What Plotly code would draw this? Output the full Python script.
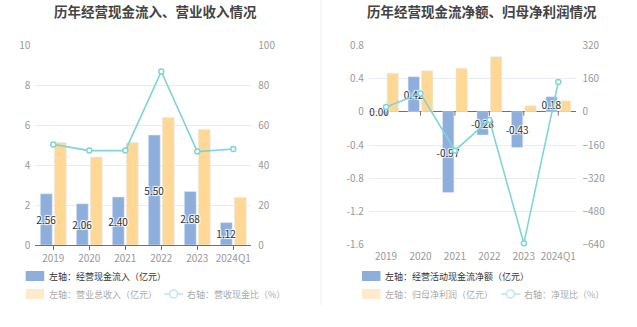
import plotly.graph_objects as go

W, H = 637, 327

# ---------------- data ----------------
years = ["2019", "2020", "2021", "2022", "2023", "2024Q1"]

# left chart
cash_inflow = [2.56, 2.06, 2.40, 5.50, 2.68, 1.12]        # 经营现金流入 (亿元)
revenue = [5.12, 4.40, 5.13, 6.37, 5.77, 2.37]            # 营业总收入 (亿元)
inflow_ratio = [50.3, 47.2, 47.2, 86.7, 46.7, 48.0]       # 营收现金比 (%)

# right chart
net_cash_flow = [0.004, 0.42, -0.97, -0.28, -0.43, 0.18]  # 经营活动现金流净额 (亿元)
net_profit = [0.46, 0.49, 0.52, 0.66, 0.07, 0.13]         # 归母净利润 (亿元)
net_ratio = [22, 87, -186, -40, -632, 142]                # 净现比 (%)

left_ticks = [0, 2, 4, 6, 8, 10]
left_ticks2 = [0, 20, 40, 60, 80, 100]
right_ticks = [-1.6, -1.2, -0.8, -0.4, 0, 0.4, 0.8]
right_tick_text = ["-1.6", "-1.2", "-0.8", "-0.4", "0", "0.4", "0.8"]
right_ticks2 = [-640, -480, -320, -160, 0, 160, 320]

# ---------------- styles ----------------
BLUE = "#8eaedb"
ORANGE = "#ffd896"
TEAL = "#7fd5d7"
GRID = "#e9ebf4"
TICK = "#999999"
FONT = "Noto Sans CJK SC"
SHADOW = "1px 1px 1px #fff, -1px -1px 1px #fff, 1px -1px 1px #fff, -1px 1px 1px #fff"
BAR_W = 0.33
BLUE_OFF = -0.36
ORANGE_OFF = 0.03


def px(x):
    return x / W


def py(y):
    return 1 - y / H


fig = go.Figure()

label_font = dict(family=FONT, size=10, color="#333", shadow=SHADOW)


def add_chart(xa, ya, ya2, bars_blue, bars_orange, ratio):
    # orange first so the blue bars' labels are painted on top
    fig.add_trace(go.Bar(x=years, y=bars_orange, xaxis=xa, yaxis=ya, marker_color=ORANGE,
                         width=BAR_W, offset=ORANGE_OFF, showlegend=False))
    fig.add_trace(go.Bar(x=years, y=bars_blue, xaxis=xa, yaxis=ya, marker_color=BLUE,
                         width=BAR_W, offset=BLUE_OFF,
                         text=[f"{v:.2f}" for v in bars_blue], textposition="inside",
                         insidetextanchor="middle", constraintext="none", textangle=0,
                         insidetextfont=label_font, showlegend=False, cliponaxis=False))
    fig.add_trace(go.Scatter(x=years, y=ratio, xaxis=xa, yaxis=ya2, mode="lines+markers",
                             line=dict(color=TEAL, width=1.6),
                             marker=dict(symbol="circle", size=5, color="white",
                                         line=dict(color=TEAL, width=1.5)),
                             showlegend=False, cliponaxis=False))


add_chart("x", "y", "y2", cash_inflow, revenue, inflow_ratio)
add_chart("x2", "y3", "y4", net_cash_flow, net_profit, net_ratio)

tickfont = dict(family=FONT, size=10, color=TICK)
ydom = [py(245), py(45)]
xdom1 = [px(35.3), px(251.3)]
xdom2 = [px(368.8), px(575.5)]

fig.update_layout(
    width=W, height=H, margin=dict(l=0, r=0, t=0, b=0, autoexpand=False),
    paper_bgcolor="white", plot_bgcolor="white",
    barmode="overlay",
    font=dict(family=FONT),
    xaxis=dict(domain=xdom1, anchor="y", showgrid=False, showline=True, linecolor="#6e7079",
               linewidth=1, ticks="outside", ticklen=4, tickcolor="#6e7079",
               tickfont=tickfont, fixedrange=True),
    yaxis=dict(domain=ydom, range=[0, 10.0001], tickvals=left_ticks, showgrid=True,
               gridcolor=GRID, zeroline=False, showline=False, tickfont=tickfont,
               ticklabelstandoff=4),
    yaxis2=dict(overlaying="y", side="right", anchor="x", range=[0, 100.001],
                tickvals=left_ticks2, showgrid=False, zeroline=False, showline=False,
                tickfont=tickfont, ticklabelstandoff=6),
    xaxis2=dict(domain=xdom2, anchor="y3", showgrid=False, showline=False, ticks="",
                tickfont=tickfont, ticklabelstandoff=4),
    yaxis3=dict(domain=ydom, anchor="x2", range=[-1.6001, 0.8001], tickvals=right_ticks,
                ticktext=right_tick_text,
                showgrid=True, gridcolor=GRID, zeroline=True, zerolinecolor="#6e7079",
                zerolinewidth=1, showline=False, tickfont=tickfont, ticklabelstandoff=4),
    yaxis4=dict(overlaying="y3", side="right", anchor="x2", range=[-640.04, 320.04],
                tickvals=right_ticks2, showgrid=False, zeroline=False, showline=False,
                tickfont=tickfont, ticklabelstandoff=6),
)

shapes = []
annotations = []

# tick marks on the zero line of the right chart
for i, _ in enumerate(years):
    shapes.append(dict(type="line", xref="x2", yref="y3", x0=i, x1=i,
                       ysizemode="pixel", yanchor=0, y0=0, y1=-4,
                       line=dict(color="#6e7079", width=1)))

# divider
shapes.append(dict(type="line", xref="paper", yref="paper", x0=px(321), x1=px(321),
                   y0=py(0), y1=py(305), line=dict(color="#eeeeee", width=1)))

# titles
annotations.append(dict(text="<b>历年经营现金流入、营业收入情况</b>", x=px(155), y=py(11),
                        xref="paper", yref="paper", showarrow=False, xanchor="center",
                        yanchor="middle", font=dict(family=FONT, size=13.5, color="#444")))
annotations.append(dict(text="<b>历年经营现金流净额、归母净利润情况</b>", x=px(482), y=py(11),
                        xref="paper", yref="paper", showarrow=False, xanchor="center",
                        yanchor="middle", font=dict(family=FONT, size=13.5, color="#444")))

LEG_SIZE = 9


def legend_box(x0, yc, color, text, tcolor):
    shapes.append(dict(type="rect", xref="paper", yref="paper", x0=px(x0), x1=px(x0 + 18.5),
                       y0=py(yc + 5), y1=py(yc - 5), fillcolor=color, line=dict(width=0),
                       layer="above"))
    annotations.append(dict(text=text, x=px(x0 + 21), y=py(yc), xref="paper", yref="paper",
                            showarrow=False, xanchor="left", yanchor="middle",
                            font=dict(family=FONT, size=LEG_SIZE, color=tcolor)))


def legend_line(x0, yc, color, text, tcolor):
    shapes.append(dict(type="line", xref="paper", yref="paper", x0=px(x0), x1=px(x0 + 18.5),
                       y0=py(yc), y1=py(yc), line=dict(color=color, width=1.6)))
    shapes.append(dict(type="circle", xref="paper", yref="paper", x0=px(x0 + 9.25 - 4),
                       x1=px(x0 + 9.25 + 4), y0=py(yc + 4), y1=py(yc - 4), fillcolor="white",
                       line=dict(color=color, width=1.5)))
    annotations.append(dict(text=text, x=px(x0 + 21), y=py(yc), xref="paper", yref="paper",
                            showarrow=False, xanchor="left", yanchor="middle",
                            font=dict(family=FONT, size=LEG_SIZE, color=tcolor)))


FADE_ORANGE = "#ffebcc"
FADE_TEAL = "#b6e9ea"
legend_box(25.7, 276, BLUE, "左轴：经营现金流入（亿元）", "#333")
legend_box(25.7, 294, FADE_ORANGE, "左轴：营业总收入（亿元）", "#aaa")
legend_line(164.3, 294, FADE_TEAL, "右轴：营收现金比（%）", "#aaa")

legend_box(362, 276, BLUE, "左轴：经营活动现金流净额（亿元）", "#333")
legend_box(362, 294, FADE_ORANGE, "左轴：归母净利润（亿元）", "#aaa")
legend_line(501.3, 294, FADE_TEAL, "右轴：净现比（%）", "#aaa")

fig.update_layout(shapes=shapes, annotations=annotations)

fig.write_html(
    "out.html",
    post_script="document.body.style.margin='0';document.body.style.overflow='hidden';",
)
